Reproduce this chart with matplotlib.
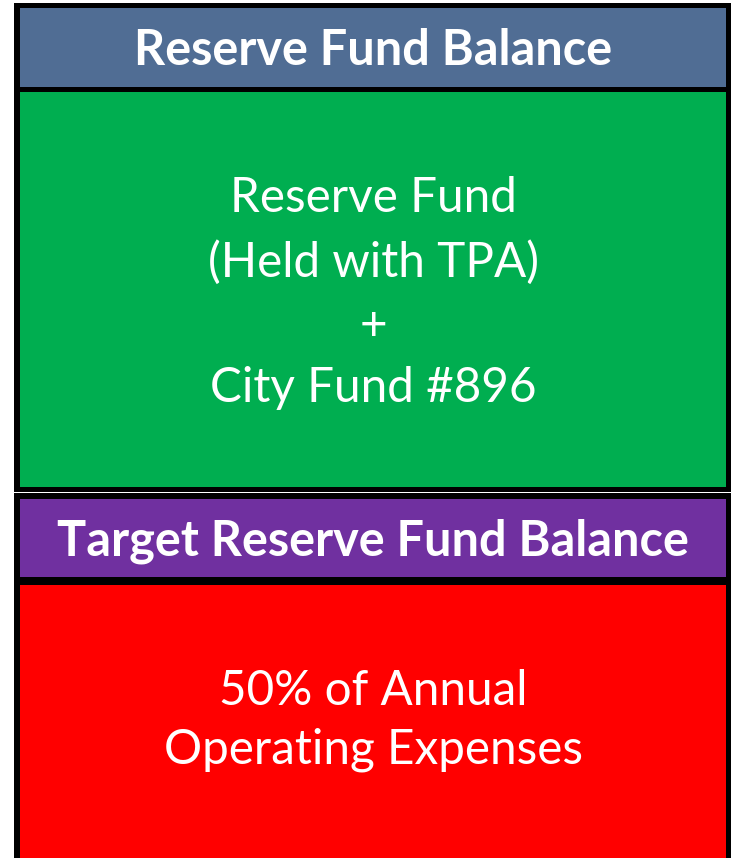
import matplotlib
matplotlib.use("Agg")
import matplotlib.pyplot as plt
from matplotlib.patches import Rectangle

# ---- content ----
header_top = "Reserve Fund Balance"
body_top = ["Reserve Fund", "(Held with TPA)", "+", "City Fund #896"]
header_bottom = "Target Reserve Fund Balance"
body_bottom = ["50% of Annual", "Operating Expenses"]

# ---- colours ----
C_BLUE = "#506D94"
C_GREEN = "#00AE50"
C_PURPLE = "#7030A0"
C_RED = "#FF0000"

W, H = 734, 858
fig = plt.figure(figsize=(W / 100, H / 100), dpi=100)
ax = fig.add_axes([0, 0, 1, 1])
ax.set_xlim(0, W)
ax.set_ylim(H, 0)
ax.axis("off")

def rect(x0, y0, x1, y1, color):
    ax.add_patch(Rectangle((x0, y0), x1 - x0, y1 - y0, facecolor=color,
                           edgecolor="none", lw=0))

# top box
rect(14, 3, 731, 492, "black")
rect(20, 8, 726, 87, C_BLUE)
rect(20, 92, 726, 487, C_GREEN)
# bottom box
rect(14, 493, 731, 870, "black")
rect(20, 499, 726, 577, C_PURPLE)
rect(20, 585, 726, 870, C_RED)

FONT = "Lato"
renderer = fig.canvas.get_renderer()

def fit_size(s, target_w, weight):
    t = ax.text(0, 0, s, fontsize=20, family=FONT, weight=weight)
    w = t.get_window_extent(renderer).width
    t.remove()
    return 20 * target_w / w

def put(s, y, size, weight):
    ax.text(373, y, s, fontsize=size, family=FONT, weight=weight,
            color="white", ha="center", va="baseline")

# headers
hs = fit_size(header_bottom, 631, "bold")
put(header_top, 65, hs, "bold")
put(header_bottom, 555, hs, "bold")

# bodies
bs = fit_size(body_bottom[1], 420, "normal")
for s, y in zip(body_top, [212, 277, 340, 402]):
    put(s, y, bs, "normal")
for s, y in zip(body_bottom, [705, 763]):
    put(s, y, bs, "normal")

fig.savefig("out.png", dpi=100)
